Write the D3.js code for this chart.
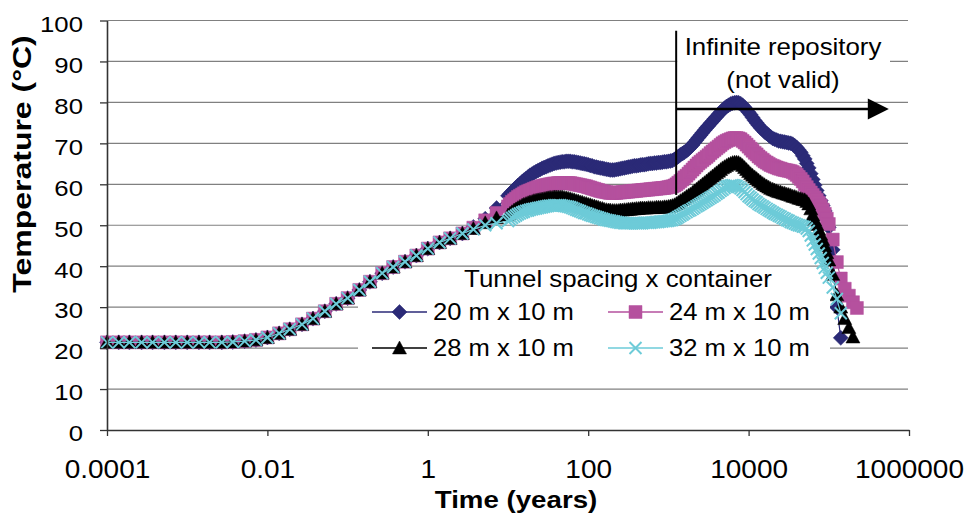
<!DOCTYPE html>
<html><head><meta charset="utf-8">
<script src="https://cdn.jsdelivr.net/npm/d3@7"></script>
<style>
html,body{margin:0;padding:0;background:#fff;}
svg{display:block;}
text{font-family:"Liberation Sans", Arial, Helvetica, sans-serif; fill:#000;}
</style></head><body>
<svg id="chart" width="969" height="516"></svg>
<script>
// ---------- DATA ----------
const years = [
  0.0001, 0.00014, 0.00019, 0.00027, 0.00037, 0.00052, 0.00072,
  0.001, 0.0014, 0.0019, 0.0027, 0.0037, 0.0052, 0.0072,
  0.01, 0.014, 0.019, 0.027, 0.037, 0.052, 0.072,
  0.1, 0.14, 0.19, 0.27, 0.37, 0.52, 0.72,
  1, 1.4, 1.9, 2.7, 3.7, 5.2, 7.2,
  10, 10.6, 11.2, 11.9, 12.6, 13.3, 14.1, 15, 15.8, 16.8, 17.8, 18.8, 20, 21.1, 22.4, 23.7, 25.1, 26.6, 28.2, 29.9,
  31.6, 33.5, 35.5, 37.6, 39.8, 42.2, 44.7, 47.3, 50.1, 53.1, 56.2, 59.6, 63.1, 66.8, 70.8, 75, 79.4, 84.1, 89.1, 94.4,
  100, 106, 112, 119, 126, 133, 141, 150, 158, 168, 178, 188, 200, 211, 224, 237, 251, 266, 282, 299,
  316, 335, 355, 376, 398, 422, 447, 473, 501, 531, 562, 596, 631, 668, 708, 750, 794, 841, 891, 944,
  1000, 1060, 1120, 1190, 1260, 1330, 1410, 1500, 1580, 1680, 1780, 1880, 2000, 2110, 2240, 2370, 2510, 2660, 2820, 2990,
  3160, 3350, 3550, 3760, 3980, 4220, 4470, 4730, 5010, 5310, 5620, 5960, 6310, 6680, 7080, 7500, 7940, 8410, 8910, 9440,
  10000, 10600, 11200, 11900, 12600, 13300, 14100, 15000, 15800, 16800, 17800, 18800, 20000, 21100, 22400, 23700, 25100, 26600, 28200, 29900,
  31600, 33500, 35500, 37600, 39800, 42200, 44700, 47300, 50100, 53100, 56200, 59600, 63100, 66800, 70800, 75000, 79400, 84100, 89100, 94400,
  100000, 112000, 126000, 141000, 158000, 178000, 200000, 224000
];

// identical for all four layouts up to ~3 years
const commonRise = [
  21.4, 21.4, 21.4, 21.4, 21.4, 21.4, 21.4,
  21.4, 21.4, 21.4, 21.4, 21.5, 21.7, 22.0,
  22.6, 23.6, 24.6, 25.8, 27.2, 29.0, 30.8,
  32.2, 34.2, 36.2, 38.3, 39.8, 41.1, 42.6,
  44.3, 45.8, 46.8, 48.0
];

const temp20 = commonRise.concat([
  49.6, 51.6, 54.2,
  57.2, 57.7, 58.2, 58.7, 59.2, 59.7, 60.1, 60.6, 61.0, 61.4, 61.8, 62.2, 62.5, 62.8, 63.1, 63.4, 63.6, 63.9, 64.1, 64.3,
  64.5, 64.7, 64.9, 65.1, 65.2, 65.3, 65.4, 65.5, 65.5, 65.6, 65.6, 65.6, 65.5, 65.5, 65.4, 65.3, 65.2, 65.1, 65.0, 64.9,
  64.8, 64.6, 64.5, 64.3, 64.2, 64.1, 64.0, 63.9, 63.8, 63.7, 63.6, 63.5, 63.5, 63.5, 63.6, 63.7, 63.8, 63.9, 64.0, 64.1,
  64.2, 64.3, 64.4, 64.5, 64.5, 64.6, 64.7, 64.8, 64.8, 64.9, 65.0, 65.1, 65.1, 65.2, 65.2, 65.3, 65.3, 65.4, 65.5, 65.5,
  65.6, 65.7, 65.8, 66.1, 66.4, 66.8, 67.2, 67.5, 67.8, 68.2, 68.6, 69.1, 69.6, 70.2, 70.8, 71.4, 72.0, 72.6, 73.2, 73.8,
  74.3, 74.9, 75.4, 76.0, 76.5, 77.1, 77.6, 78.1, 78.6, 79.0, 79.3, 79.6, 79.8, 79.9, 80.0, 79.9, 79.7, 79.3, 78.8, 78.2,
  77.6, 77.0, 76.3, 75.6, 75.0, 74.4, 73.8, 73.3, 72.8, 72.4, 72.0, 71.6, 71.2, 71.0, 70.8, 70.6, 70.5, 70.4, 70.3, 70.2,
  70.1, 70.0, 69.8, 69.4, 69.0, 68.4, 67.8, 67.0, 66.2, 65.1, 64.0, 62.6, 61.2, 59.8, 58.5, 57.2, 56.0, 54.8, 53.5, 51.5,
  49.5, 44.0, 30.0, 22.5, null, null, null, null
]);

const temp24 = commonRise.concat([
  49.4, 51.2, 53.0,
  54.6, 55.2, 55.7, 56.1, 56.5, 56.9, 57.2, 57.5, 57.8, 58.1, 58.3, 58.5, 58.7, 58.9, 59.1, 59.3, 59.4, 59.6, 59.7, 59.8,
  59.9, 60.0, 60.1, 60.2, 60.2, 60.3, 60.3, 60.3, 60.3, 60.3, 60.3, 60.3, 60.2, 60.1, 60.0, 59.9, 59.8, 59.7, 59.6, 59.5,
  59.3, 59.2, 59.0, 58.9, 58.7, 58.6, 58.4, 58.3, 58.2, 58.1, 58.0, 57.9, 57.9, 57.9, 57.9, 58.0, 58.0, 58.1, 58.1, 58.2,
  58.2, 58.3, 58.3, 58.4, 58.4, 58.5, 58.5, 58.6, 58.6, 58.7, 58.7, 58.8, 58.8, 58.9, 58.9, 59.0, 59.0, 59.1, 59.1, 59.2,
  59.3, 59.4, 59.5, 59.7, 60.0, 60.4, 60.8, 61.2, 61.7, 62.1, 62.6, 63.1, 63.6, 64.1, 64.6, 65.1, 65.5, 65.9, 66.3, 66.7,
  67.1, 67.6, 68.0, 68.4, 68.8, 69.2, 69.6, 70.0, 70.3, 70.6, 70.8, 71.0, 71.2, 71.3, 71.3, 71.2, 71.0, 70.6, 70.2, 69.7,
  69.2, 68.7, 68.2, 67.7, 67.3, 66.8, 66.4, 66.0, 65.6, 65.3, 65.0, 64.7, 64.5, 64.3, 64.1, 63.9, 63.8, 63.6, 63.5, 63.4,
  63.3, 63.2, 63.0, 62.7, 62.3, 61.8, 61.3, 60.7, 60.0, 59.3, 58.6, 58.0, 57.4, 56.8, 56.2, 55.5, 54.8, 53.8, 52.8, 51.6,
  50.3, 46.5, 41.0, 37.0, 34.5, 32.8, 31.2, 29.8
]);

const temp28 = commonRise.concat([
  49.2, 50.6, 51.8,
  52.5, 52.9, 53.3, 53.7, 54.0, 54.3, 54.6, 54.9, 55.1, 55.3, 55.5, 55.7, 55.8, 56.0, 56.1, 56.2, 56.3, 56.4, 56.5, 56.6,
  56.7, 56.8, 56.8, 56.9, 56.9, 56.9, 56.9, 56.9, 56.8, 56.7, 56.6, 56.5, 56.3, 56.2, 56.0, 55.9, 55.7, 55.6, 55.4, 55.3,
  55.1, 55.0, 54.8, 54.7, 54.5, 54.4, 54.2, 54.1, 53.9, 53.8, 53.7, 53.7, 53.6, 53.6, 53.6, 53.6, 53.7, 53.7, 53.8, 53.8,
  53.9, 53.9, 54.0, 54.0, 54.1, 54.1, 54.2, 54.2, 54.2, 54.2, 54.3, 54.3, 54.3, 54.3, 54.4, 54.4, 54.4, 54.4, 54.5, 54.5,
  54.6, 54.7, 54.8, 55.0, 55.3, 55.6, 56.0, 56.3, 56.6, 57.0, 57.3, 57.6, 58.0, 58.4, 58.8, 59.2, 59.6, 60.0, 60.4, 60.8,
  61.2, 61.6, 62.0, 62.4, 62.8, 63.2, 63.6, 64.0, 64.3, 64.6, 64.9, 65.1, 65.3, 65.4, 65.4, 65.3, 65.0, 64.6, 64.1, 63.6,
  63.1, 62.6, 62.2, 61.8, 61.4, 61.0, 60.6, 60.2, 59.9, 59.6, 59.3, 59.0, 58.8, 58.6, 58.4, 58.2, 58.1, 57.9, 57.8, 57.6,
  57.5, 57.3, 57.1, 57.0, 56.8, 56.6, 56.5, 56.3, 56.2, 55.8, 55.2, 54.0, 52.5, 51.3, 50.2, 49.0, 47.8, 46.5, 45.0, 43.3,
  41.5, 38.0, 33.0, 30.0, 27.2, 25.0, 22.7, null
]);

const temp32 = commonRise.concat([
  49.0, 50.0, 50.5,
  51.0, 51.4, 51.8, 52.1, 52.4, 52.7, 52.9, 53.1, 53.3, 53.5, 53.6, 53.8, 53.9, 54.0, 54.1, 54.2, 54.3, 54.4, 54.5, 54.6,
  54.7, 54.8, 54.8, 54.9, 54.9, 54.9, 54.9, 54.8, 54.7, 54.6, 54.5, 54.4, 54.2, 54.0, 53.8, 53.6, 53.4, 53.2, 53.0, 52.9,
  52.7, 52.5, 52.3, 52.2, 52.0, 51.9, 51.7, 51.6, 51.4, 51.3, 51.2, 51.1, 51.0, 50.9, 50.8, 50.7, 50.6, 50.6, 50.5, 50.5,
  50.5, 50.5, 50.5, 50.5, 50.5, 50.5, 50.5, 50.5, 50.6, 50.6, 50.6, 50.6, 50.7, 50.7, 50.8, 50.8, 50.9, 50.9, 51.0, 51.0,
  51.1, 51.2, 51.3, 51.5, 51.7, 52.0, 52.3, 52.6, 52.9, 53.2, 53.5, 53.7, 54.0, 54.3, 54.6, 54.9, 55.2, 55.5, 55.8, 56.1,
  56.4, 56.7, 57.0, 57.3, 57.7, 58.0, 58.4, 58.7, 59.1, 59.4, 59.6, 59.7, 59.8, 59.7, 59.6, 59.3, 59.0, 58.6, 58.1, 57.6,
  57.1, 56.7, 56.3, 55.9, 55.6, 55.2, 54.9, 54.6, 54.3, 54.0, 53.7, 53.4, 53.1, 52.8, 52.6, 52.3, 52.1, 51.8, 51.6, 51.3,
  51.1, 50.8, 50.6, 50.4, 50.2, 50.0, 49.9, 49.7, 49.6, 49.2, 48.6, 47.5, 46.3, 45.3, 44.2, 43.1, 42.0, 40.8, 39.6, 38.4,
  37.2, 34.8, 32.0, 28.5, null, null, null, null
]);

const seriesNames = ["20 m x 10 m", "24 m x 10 m", "28 m x 10 m", "32 m x 10 m"];
const seriesColors = ["#2b2a77", "#b5519e", "#000000", "#6dcbd8"];
const seriesShapes = ["diamond", "square", "triangle", "cross"];
const seriesValues = [temp20, temp24, temp28, temp32];

const xTickValues = [0.0001, 0.01, 1, 100, 10000, 1000000];
const xTickLabels = ["0.0001", "0.01", "1", "100", "10000", "1000000"];
const yTickValues = [0, 10, 20, 30, 40, 50, 60, 70, 80, 90, 100];
const xTitle = "Time (years)";
const yTitle = "Temperature (°C)";
const legendTitle = "Tunnel spacing x container";
const annotationLines = ["Infinite repository", "(not valid)"];
const annotationYear = 1250;      // vertical marker line
const arrowTemp = 78.4;           // arrow level
const annotationTop = 97.5, annotationBottom = 57.4;
const arrowEndYear = 560000;

// ---------- CHART ----------
const svg = d3.select("#chart");
svg.append("rect").attr("width", 969).attr("height", 516).attr("fill", "#fff");

const x = d3.scaleLog().domain([0.0001, 1000000]).range([107, 909]);
const y = d3.scaleLinear().domain([0, 100]).range([430, 20.5]);
const SX = 1.12;

// gridlines
svg.append("g").selectAll("line").data(yTickValues.filter(v => v > 0)).join("line")
  .attr("x1", x.range()[0]).attr("x2", 908)
  .attr("y1", d => y(d)).attr("y2", d => y(d))
  .attr("stroke", "#808080").attr("stroke-width", 1.2);

// series
const markerPath = (shape, r) => {
  switch (shape) {
    case "diamond": return `M0,${-r}L${r},0L0,${r}L${-r},0Z`;
    case "square": return `M${-r},${-r}H${r}V${r}H${-r}Z`;
    case "triangle": return `M0,${-r}L${r},${r * 0.85}L${-r},${r * 0.85}Z`;
    default: return `M${-r},${-r}L${r},${r}M${r},${-r}L${-r},${r}`;
  }
};
const markerSize = { diamond: 7.5, square: 6.5, triangle: 7, cross: 6 };

const line = d3.line().defined(d => d.v != null).x(d => x(d.t)).y(d => y(d.v));

seriesValues.forEach((vals, i) => {
  const pts = years.map((t, j) => ({ t, v: vals[j] }));
  const g = svg.append("g");
  g.append("path").attr("d", line(pts)).attr("fill", "none")
    .attr("stroke", seriesColors[i]).attr("stroke-width", 1.2);
  const shape = seriesShapes[i];
  g.selectAll("path.m").data(pts.filter(d => d.v != null)).join("path")
    .attr("class", "m")
    .attr("transform", d => `translate(${x(d.t)},${y(d.v)})`)
    .attr("d", markerPath(shape, markerSize[shape]))
    .attr("fill", shape === "cross" ? "none" : seriesColors[i])
    .attr("stroke", seriesColors[i])
    .attr("stroke-width", shape === "cross" ? 2 : 0.5);
});

// axes
const yAxis = d3.axisLeft(y).tickValues(yTickValues).tickSize(7).tickSizeOuter(0).tickFormat(d3.format("d"));
const gy = svg.append("g").attr("transform", `translate(${x.range()[0]},0)`).call(yAxis);
gy.select(".domain").attr("stroke", "#333").attr("stroke-width", 1.6);
gy.selectAll(".tick line").attr("stroke", "#333").attr("stroke-width", 1.3);
gy.selectAll(".tick text")
  .attr("font-size", 23).attr("font-family", "Liberation Sans, Arial, sans-serif")
  .attr("x", -24 / SX).attr("dy", "0.47em").attr("transform", `scale(${SX},1)`).attr("fill", "#000");

const xAxis = d3.axisBottom(x).tickValues(xTickValues).tickSize(6).tickSizeOuter(0)
  .tickFormat((d, i) => xTickLabels[i]);
const gx = svg.append("g").attr("transform", `translate(0,${y(0)})`).call(xAxis);
gx.select(".domain").attr("stroke", "#333").attr("stroke-width", 1.6);
gx.selectAll(".tick line").attr("stroke", "#333").attr("stroke-width", 1.3);
gx.selectAll(".tick text")
  .attr("font-size", 25).attr("font-family", "Liberation Sans, Arial, sans-serif")
  .attr("y", 48).attr("dy", 0).attr("transform", `scale(${SX},1)`).attr("fill", "#000");

// axis titles
svg.append("text").attr("transform", `translate(516,508) scale(1.13,1)`)
  .attr("text-anchor", "middle").attr("font-size", 24.5).attr("font-weight", "bold").text(xTitle);
svg.append("text").attr("transform", `translate(31,164) rotate(-90) scale(1.28,1)`)
  .attr("text-anchor", "middle").attr("font-size", 25).attr("font-weight", "bold").text(yTitle);

// legend
const legend = svg.append("g");
legend.append("rect").attr("x", 358).attr("y", 297).attr("width", 472).attr("height", 69).attr("fill", "#fff");
legend.append("text").attr("transform", `translate(618,287) scale(1.1,1)`)
  .attr("text-anchor", "middle").attr("font-size", 23.5).text(legendTitle);
const legendPos = [[372, 312], [608, 312], [372, 348], [608, 348]];
seriesNames.forEach((name, i) => {
  const [lx, ly] = legendPos[i];
  const shape = seriesShapes[i];
  legend.append("line").attr("x1", lx).attr("x2", lx + 55).attr("y1", ly).attr("y2", ly)
    .attr("stroke", seriesColors[i]).attr("stroke-width", 1.5);
  legend.append("path").attr("transform", `translate(${lx + 27.5},${ly})`)
    .attr("d", markerPath(shape, markerSize[shape]))
    .attr("fill", shape === "cross" ? "none" : seriesColors[i])
    .attr("stroke", seriesColors[i]).attr("stroke-width", shape === "cross" ? 2 : 0.5);
  legend.append("text").attr("transform", `translate(${lx + 61},${ly + 7.5}) scale(1.09,1)`)
    .attr("font-size", 23.5).text(name);
});

// annotation
const ax = x(annotationYear);
const ann = svg.append("g");
ann.append("rect").attr("x", ax + 1).attr("y", 28).attr("width", 890 - ax - 1).attr("height", 67).attr("fill", "#fff");
ann.append("line").attr("x1", ax).attr("x2", ax).attr("y1", y(annotationTop)).attr("y2", y(annotationBottom))
  .attr("stroke", "#000").attr("stroke-width", 2);
const tipX = x(arrowEndYear), ay = y(arrowTemp);
ann.append("line").attr("x1", ax).attr("x2", tipX - 18).attr("y1", ay).attr("y2", ay)
  .attr("stroke", "#000").attr("stroke-width", 2.5);
ann.append("path").attr("d", `M${tipX},${ay}L${tipX - 21},${ay - 10.5}L${tipX - 21},${ay + 10.5}Z`).attr("fill", "#000");
annotationLines.forEach((t, i) => {
  ann.append("text").attr("transform", `translate(783,${55 + i * 32.5}) scale(1.1,1)`)
    .attr("text-anchor", "middle").attr("font-size", 23.5).text(t);
});
</script>
</body></html>
